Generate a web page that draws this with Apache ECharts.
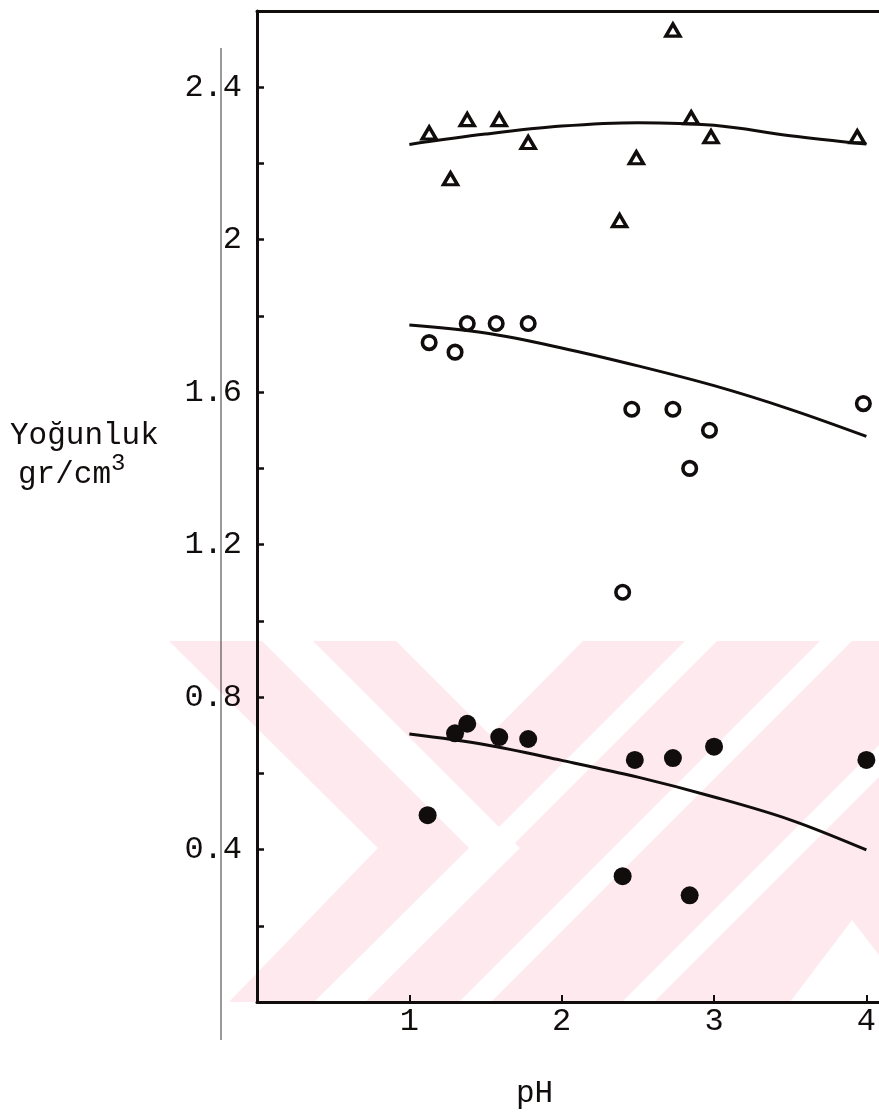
<!DOCTYPE html>
<html>
<head>
<meta charset="utf-8">
<script src="https://cdn.jsdelivr.net/npm/echarts@6/dist/echarts.min.js"></script>
<style>
  html, body { margin: 0; padding: 0; background: #ffffff; }
  #chart { width: 879px; height: 1116px; }
</style>
</head>
<body>
<div id="chart"></div>
<script>
// Density (gr/cm3) against pH for three sample groups, each with its fitted curve.
const yTickLabels = [0.4, 0.8, 1.2, 1.6, 2, 2.4];
const yTickMarks = [0.2, 0.4, 0.6, 0.8, 1.0, 1.2, 1.4, 1.6, 1.8, 2.0, 2.2, 2.4];
const xTickLabels = [1, 2, 3, 4];

// open triangles
const phTri   = [1.13, 1.27, 1.38, 1.59, 1.78, 2.38, 2.49, 2.73, 2.85, 2.98, 3.94];
const densTri = [2.28, 2.16, 2.315, 2.315, 2.255, 2.05, 2.215, 2.55, 2.32, 2.27, 2.27];

// open circles
const phCirc   = [1.13, 1.30, 1.38, 1.57, 1.78, 2.40, 2.46, 2.73, 2.84, 2.97, 3.98];
const densCirc = [1.73, 1.705, 1.78, 1.78, 1.78, 1.075, 1.555, 1.555, 1.40, 1.50, 1.57];

// filled dots
const phDot   = [1.12, 1.30, 1.38, 1.59, 1.78, 2.40, 2.48, 2.73, 2.84, 3.00, 4.00];
const densDot = [0.49, 0.705, 0.73, 0.695, 0.69, 0.33, 0.635, 0.64, 0.28, 0.67, 0.635];

// fitted curves
const fitPh      = [1.0, 1.5, 2.0, 2.5, 3.0, 3.5, 4.0];
const fitTri     = [2.250, 2.277, 2.298, 2.307, 2.300, 2.273, 2.251];
const fitCirc    = [1.776, 1.755, 1.716, 1.669, 1.617, 1.555, 1.484];
const fitDot     = [0.703, 0.675, 0.634, 0.590, 0.538, 0.478, 0.399];

const INK = '#120d0d';
const FONT = '"Liberation Mono", "DejaVu Sans Mono", monospace';
const PINK = '#fde9ee';

const pairs = (xs, ys) => xs.map((x, i) => [x, ys[i]]);

const chart = echarts.init(document.getElementById('chart'), null, { renderer: 'canvas' });

const markerBase = { type: 'scatter', z: 5, emphasis: { disabled: true } };

chart.setOption({
  backgroundColor: '#ffffff',
  animation: false,
  grid: { left: 257, right: 0, top: 11, bottom: 114, containLabel: false },
  xAxis: [
    {
      type: 'value', min: 0, max: 4.08, interval: 1,
      axisLine: { show: true, onZero: false, lineStyle: { color: INK, width: 3 } },
      axisTick: { show: true, inside: true, length: 7, customValues: xTickLabels, lineStyle: { color: INK, width: 2 } },
      axisLabel: { show: true, customValues: xTickLabels, margin: 4, color: INK, fontFamily: FONT, fontSize: 32 },
      splitLine: { show: false }
    },
    {
      type: 'value', position: 'top', min: 0, max: 4.08,
      axisLine: { show: true, onZero: false, lineStyle: { color: INK, width: 3 } },
      axisTick: { show: false }, axisLabel: { show: false }, splitLine: { show: false }
    }
  ],
  yAxis: {
    type: 'value', min: 0, max: 2.6, interval: 0.2,
    axisLine: { show: true, onZero: false, lineStyle: { color: INK, width: 3 } },
    axisTick: { show: true, inside: true, length: 7, customValues: yTickMarks, lineStyle: { color: INK, width: 2.5 } },
    axisLabel: {
      show: true, customValues: yTickLabels, margin: 15, color: INK, fontFamily: FONT, fontSize: 32,
      formatter: v => String(+v.toFixed(1))
    },
    splitLine: { show: false }
  },
  graphic: [
    // pink band with chevron and diagonal stripes
    { type: 'polygon', z: -10, silent: true,
      shape: { points: [[169, 641], [879, 641], [879, 1002], [229, 1002], [378, 848]] },
      style: { fill: PINK } },
    { type: 'polygon', z: -9, silent: true,
      shape: { points: [[262, 641], [313, 641], [520, 848], [365, 1002], [314, 1002], [469, 848]] },
      style: { fill: '#ffffff' } },
    { type: 'polygon', z: -9, silent: true,
      shape: { points: [[396, 641], [583, 641], [490, 735]] },
      style: { fill: '#ffffff' } },
    { type: 'polygon', z: -9, silent: true,
      shape: { points: [[685, 641], [717, 641], [356, 1002], [324, 1002]] },
      style: { fill: '#ffffff' } },
    { type: 'polygon', z: -9, silent: true,
      shape: { points: [[820, 641], [852, 641], [491, 1002], [459, 1002]] },
      style: { fill: '#ffffff' } },
    { type: 'polygon', z: -9, silent: true,
      shape: { points: [[879, 745], [879, 777], [654, 1002], [622, 1002]] },
      style: { fill: '#ffffff' } },
    { type: 'polygon', z: -9, silent: true,
      shape: { points: [[790, 1002], [852, 920], [879, 955], [879, 1002]] },
      style: { fill: '#ffffff' } },
    // faint page edge line left of the axis
    { type: 'line', z: -5, silent: true,
      shape: { x1: 221, y1: 48, x2: 221, y2: 1040 },
      style: { stroke: '#2a2a2a', lineWidth: 1.2, opacity: 0.8 } },
    // axis titles
    { type: 'text', left: 10, top: 420, silent: true,
      style: { text: 'Yoğunluk', fill: INK, font: '31px ' + FONT } },
    { type: 'text', left: 18, top: 452, silent: true,
      style: {
        text: '{b|gr/cm}{s|3}',
        rich: {
          b: { fill: INK, font: '31px ' + FONT, verticalAlign: 'bottom' },
          s: { fill: INK, font: '24px ' + FONT, verticalAlign: 'top', padding: [0, 0, 14, 0] }
        }
      } },
    { type: 'text', left: 516, top: 1078, silent: true,
      style: { text: 'pH', fill: INK, font: '31px ' + FONT } }
  ],
  series: [
    { type: 'line', data: pairs(fitPh, fitTri), smooth: 0.35, symbol: 'none', z: 4,
      lineStyle: { color: INK, width: 3 } },
    { type: 'line', data: pairs(fitPh, fitCirc), smooth: 0.35, symbol: 'none', z: 4,
      lineStyle: { color: INK, width: 3 } },
    { type: 'line', data: pairs(fitPh, fitDot), smooth: 0.35, symbol: 'none', z: 4,
      lineStyle: { color: INK, width: 3 } },
    Object.assign({}, markerBase, {
      data: pairs(phTri, densTri), symbol: 'triangle', symbolSize: [14, 12],
      itemStyle: { color: 'rgba(255,255,255,0)', borderColor: INK, borderWidth: 3.4, opacity: 1 }
    }),
    Object.assign({}, markerBase, {
      data: pairs(phCirc, densCirc), symbol: 'circle', symbolSize: 13.5,
      itemStyle: { color: 'rgba(255,255,255,0)', borderColor: INK, borderWidth: 3.6, opacity: 1 }
    }),
    Object.assign({}, markerBase, {
      data: pairs(phDot, densDot), symbol: 'circle', symbolSize: 18,
      itemStyle: { color: INK, borderWidth: 0, opacity: 1 }
    })
  ]
});
</script>
</body>
</html>
